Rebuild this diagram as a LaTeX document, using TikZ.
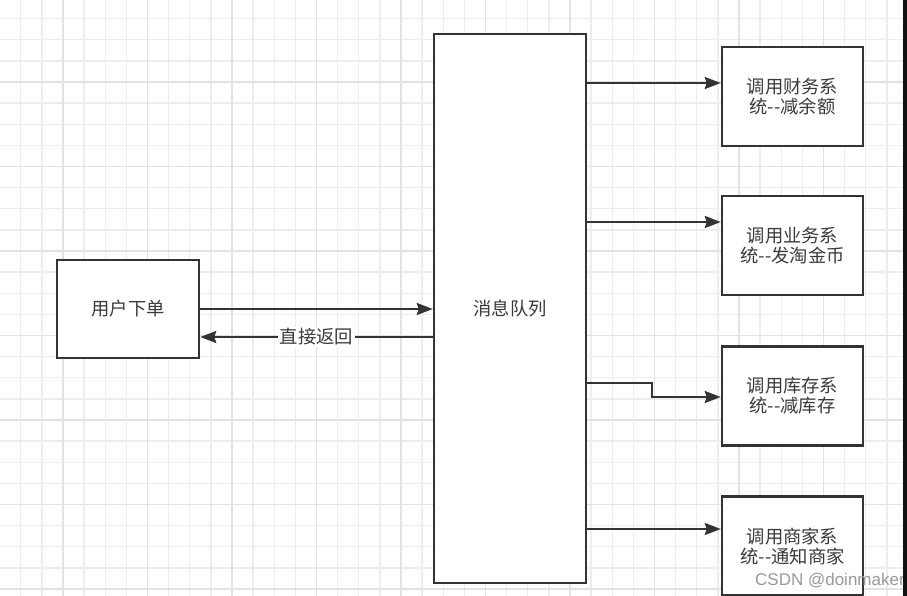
\documentclass[tikz,border=0pt]{standalone}
\usepackage{fontspec}
\setmainfont{Liberation Sans}
\newfontfamily\cjk{Noto Sans CJK SC}
\usetikzlibrary{arrows.meta}
\definecolor{gridminor}{HTML}{EDEDED}
\definecolor{gridmajor}{HTML}{E2E2E2}
\definecolor{edge}{HTML}{333333}
\definecolor{txt}{HTML}{3A3A3A}
\tikzset{
  minorline/.style={draw=gridminor, line width=1.3pt},
  majorline/.style={draw=gridmajor, line width=1.5pt},
  box/.style={draw=edge, fill=white, line width=2.5pt, rectangle, inner sep=0pt,
    font=\cjk\fontsize{18.3}{20}\selectfont, text=txt, align=center},
  arr/.style={draw=edge, line width=2.2pt, -{Stealth[length=16pt,width=12pt,inset=2pt]}},
  lbl/.style={fill=white, inner sep=2pt, font=\cjk\fontsize{18.3}{20}\selectfont, text=txt}
}
\begin{document}
\begin{tikzpicture}[x=1pt,y=-1pt]
\useasboundingbox (0,0) rectangle (907,596);
\fill[white] (0,0) rectangle (907,596);
% grid
\foreach \i in {-3,...,39} {
  \draw[minorline] ({63+21.125*\i},0) -- ({63+21.125*\i},596);
}
\foreach \i in {-4,...,24} {
  \draw[minorline] (0,{82+21.125*\i}) -- (907,{82+21.125*\i});
}
\foreach \i in {0,...,9} {
  \draw[majorline] ({63+84.5*\i},0) -- ({63+84.5*\i},596);
}
\foreach \i in {-1,...,6} {
  \draw[majorline] (0,{82+84.5*\i}) -- (907,{82+84.5*\i});
}
% nodes
\node[box, minimum width=142pt, minimum height=98pt] (order) at (128,309) {用户下单};
\node[box, minimum width=152pt, minimum height=549pt] (mq) at (510,308.5) {消息队列};
\node[box, minimum width=141pt, minimum height=99pt] (b1) at (792.5,96.5) {调用财务系\\统--减余额};
\node[box, minimum width=141pt, minimum height=99pt] (b2) at (792.5,245.5) {调用业务系\\统--发淘金币};
\node[box, minimum width=141pt, minimum height=99pt] (b3) at (792.5,396) {调用库存系\\统--减库存};
\node[box, minimum width=141pt, minimum height=99pt] (b4) at (792.5,546) {调用商家系\\统--通知商家};
% connectors
\draw[arr] (order.east |- 0,309) -- (mq.west |- 0,309);
\draw[arr] (mq.west |- 0,337) -- node[lbl] {直接返回} (order.east |- 0,337);
\draw[arr] (mq.east |- 0,83) -- (b1.west |- 0,83);
\draw[arr] (mq.east |- 0,222) -- (b2.west |- 0,222);
\draw[arr] ([xshift=-2pt]mq.east |- 0,383) -- (652,383) |- (b3.west |- 0,397);
\draw[arr] (mq.east |- 0,529) -- (b4.west |- 0,529);
% watermark
\node[anchor=west, inner sep=0pt, text=gray!80, font=\fontsize{17}{17}\selectfont] (wm) at (755,581) {CSDN @doinmaker};
\fill[black!93] (903,0) rectangle (907,596);
\end{tikzpicture}
\end{document}
